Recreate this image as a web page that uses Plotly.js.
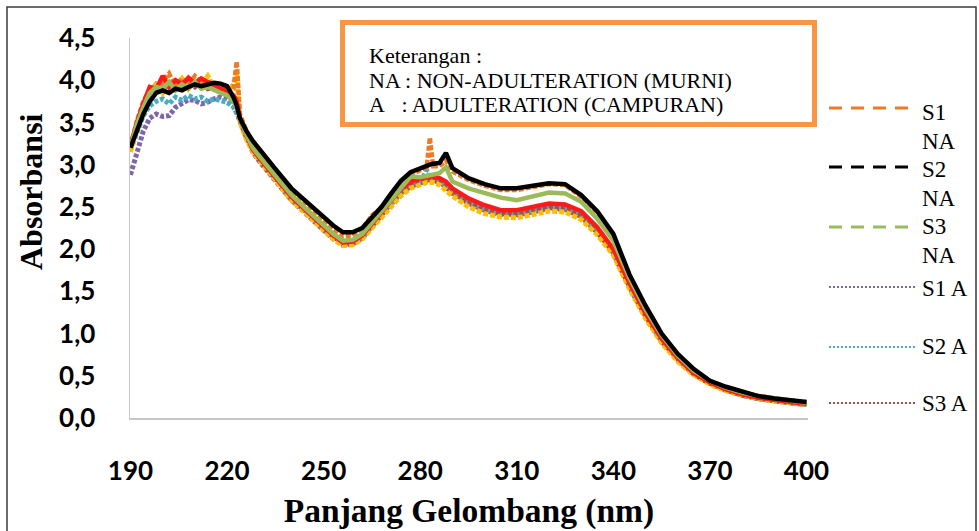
<!DOCTYPE html>
<html><head><meta charset="utf-8">
<script src="https://cdn.plot.ly/plotly-3.0.1.min.js"></script>
<style>html,body{margin:0;padding:0;background:#fff}#chart{width:979px;height:531px}</style>
</head><body><div id="chart"></div><script>
// ---------------- data ----------------
const wavelength = [190,192,194,196,198,200,202,204,206,208,210,212,214,216,218,220,
  222,223,224,226,228,230,235,240,245,250,253,256,259,262,265,268,
  271,274,277,280,282,283,284,286,288,290,295,300,305,310,315,320,
  325,330,335,340,345,350,355,360,365,370,375,380,385,390,395,400];

const seriesNames = ["S1 NA","S2 NA","S3 NA","S1 A","S2 A","S3 A"];
const legendLabelLines = ["S1","NA","S2","NA","S3","NA","S1 A","S2 A","S3 A"];

const s1NA = [3.22,3.52,3.75,3.90,3.85,3.98,4.08,3.92,
 4.02,3.95,4.05,3.97,4.00,3.93,3.92,3.88,
 3.90,4.22,3.60,3.40,3.25,3.15,2.92,2.68,
 2.50,2.33,2.23,2.15,2.16,2.24,2.40,2.48,
 2.62,2.78,2.88,2.93,2.97,3.32,2.98,2.98,
 3.05,2.92,2.82,2.75,2.70,2.70,2.74,2.77,
 2.76,2.62,2.43,2.15,1.68,1.31,0.99,0.75,
 0.57,0.44,0.36,0.30,0.26,0.23,0.21,0.19];
const s2NA = [3.20,3.40,3.60,3.75,3.85,3.88,3.85,3.90,
 3.88,3.92,3.95,3.93,3.95,3.97,3.96,3.93,
 3.80,3.70,3.55,3.40,3.28,3.18,2.95,2.72,
 2.55,2.38,2.28,2.20,2.20,2.25,2.38,2.50,
 2.66,2.81,2.91,2.96,2.99,3.00,3.01,3.02,
 3.14,2.96,2.84,2.77,2.72,2.72,2.75,2.78,
 2.77,2.64,2.45,2.18,1.70,1.33,1.00,0.76,
 0.58,0.44,0.37,0.31,0.26,0.23,0.21,0.19];
const s3NA = [3.20,3.48,3.68,3.85,3.92,3.90,3.98,3.88,
 3.95,3.90,3.98,3.90,3.92,3.88,3.85,3.82,
 3.75,3.68,3.55,3.36,3.20,3.10,2.87,2.64,
 2.46,2.28,2.18,2.10,2.11,2.18,2.32,2.45,
 2.60,2.74,2.86,2.85,2.87,2.88,2.88,2.90,
 2.97,2.80,2.72,2.66,2.61,2.58,2.62,2.67,
 2.66,2.56,2.36,2.10,1.66,1.29,0.98,0.74,
 0.56,0.44,0.36,0.30,0.26,0.23,0.20,0.18];
const s1A = [2.88,3.15,3.40,3.55,3.60,3.57,3.58,3.68,
 3.72,3.77,3.76,3.72,3.74,3.78,3.80,3.78,
 3.70,3.62,3.52,3.32,3.15,3.04,2.80,2.58,
 2.40,2.22,2.12,2.05,2.06,2.13,2.26,2.40,
 2.55,2.66,2.74,2.79,2.81,2.81,2.81,2.79,
 2.74,2.66,2.54,2.46,2.41,2.40,2.44,2.48,
 2.47,2.38,2.20,1.95,1.55,1.20,0.91,0.69,
 0.52,0.41,0.33,0.27,0.23,0.20,0.18,0.16];
const s2A = [3.18,3.40,3.58,3.70,3.75,3.78,3.72,3.80,
 3.76,3.82,3.78,3.80,3.75,3.78,3.76,3.74,
 3.68,3.62,3.52,3.33,3.16,3.06,2.83,2.60,
 2.42,2.24,2.14,2.06,2.07,2.14,2.27,2.40,
 2.53,2.66,2.74,2.78,2.94,2.82,2.81,2.80,
 2.76,2.68,2.56,2.48,2.43,2.42,2.46,2.50,
 2.49,2.40,2.22,1.97,1.56,1.21,0.92,0.70,
 0.52,0.41,0.33,0.27,0.23,0.20,0.18,0.16];
const s3A = [3.22,3.48,3.72,3.85,3.95,3.90,3.95,3.98,
 3.90,3.96,3.92,3.98,3.90,3.92,3.86,3.84,
 3.78,3.70,3.54,3.34,3.17,3.06,2.84,2.61,
 2.43,2.25,2.15,2.07,2.08,2.15,2.28,2.41,
 2.55,2.68,2.76,2.80,2.82,2.82,2.82,2.80,
 2.75,2.67,2.55,2.47,2.42,2.41,2.45,2.49,
 2.48,2.39,2.21,1.96,1.56,1.21,0.92,0.70,
 0.52,0.41,0.33,0.27,0.23,0.20,0.18,0.16];
// two further series drawn in the plot but cut from the legend
const extraRed = [3.22,3.50,3.72,3.92,3.90,4.05,3.92,4.00,
 3.95,4.03,3.96,4.02,3.98,3.94,3.90,3.88,
 3.82,3.75,3.55,3.35,3.18,3.08,2.85,2.62,
 2.44,2.26,2.16,2.08,2.09,2.16,2.30,2.43,
 2.58,2.72,2.80,2.84,2.86,2.86,2.86,2.84,
 2.80,2.72,2.60,2.52,2.46,2.46,2.50,2.54,
 2.53,2.45,2.26,2.00,1.60,1.24,0.94,0.71,
 0.53,0.42,0.34,0.28,0.24,0.21,0.19,0.17];
const extraGold = [3.15,3.45,3.70,3.88,3.95,3.85,3.98,3.92,
 4.02,3.90,4.00,3.95,4.05,3.92,3.88,3.85,
 3.95,4.10,3.50,3.30,3.15,3.05,2.82,2.58,
 2.40,2.22,2.12,2.04,2.05,2.12,2.25,2.38,
 2.52,2.63,2.72,2.77,2.79,2.79,2.79,2.76,
 2.70,2.63,2.50,2.42,2.38,2.37,2.41,2.45,
 2.44,2.35,2.17,1.93,1.53,1.18,0.89,0.67,
 0.51,0.40,0.32,0.27,0.23,0.20,0.18,0.16];

const xTicks = [190,220,250,280,310,340,370,400];
const yTicks = [0,0.5,1,1.5,2,2.5,3,3.5,4,4.5];
const noteLines = ["Keterangan :", "NA : NON-ADULTERATION (MURNI)", "A\u00A0\u00A0\u00A0: ADULTERATION (CAMPURAN)"];

// ---------------- styles ----------------
const colors = {s1NA:"#EC7A26", s2NA:"#000000", s3NA:"#9BBB59", s1A:"#7E66A8", s2A:"#4BACC6", s3A:"#B04A46", red:"#FF1A1A", gold:"#FFBE00"};
const legendColors = [colors.s1NA, colors.s2NA, colors.s3NA, colors.s1A, colors.s2A, colors.s3A];
const legendDash = ["13px,9px","13px,9px","13px,9px","2px,2px","2px,2px","2px,2px"];

function tr(y, name, color, dash, width){
  return {x: wavelength, y: y, name: name, type:"scatter", mode:"lines",
          line:{color: color, width: width, dash: dash}, showlegend:false, hoverinfo:"skip"};
}
const traces = [
  tr(s1A, seriesNames[3], colors.s1A, "4px,2px", 5),
  tr(s2A, seriesNames[4], colors.s2A, "4px,2px", 5),
  tr(s3A, seriesNames[5], colors.s3A, "4px,2px", 5),
  tr(extraGold, "", colors.gold, "5px,2px", 5),
  tr(s1NA, seriesNames[0], colors.s1NA, "5px,2px", 4.5),
  tr(extraRed, "", colors.red, "solid", 4.5),
  tr(s3NA, seriesNames[2], colors.s3NA, "solid", 4.5),
  tr(s2NA, seriesNames[1], colors.s2NA, "solid", 4.5)
];

// pixel -> paper helpers (plot area: x 130..808, y 38..418)
const L=130, R=808, T=38, B=418;
const px = p => (p-L)/(R-L);
const py = p => (B-p)/(B-T);

const serif = "Liberation Serif";
const shapes = [
  {type:"rect", xref:"paper", yref:"paper", x0:px(7), x1:px(976), y0:py(540), y1:py(7),
   line:{color:"#3a3a3a", width:1.5}, fillcolor:"rgba(0,0,0,0)", layer:"below"},
  {type:"rect", xref:"paper", yref:"paper", x0:px(342.5), x1:px(814.5), y0:py(124.5), y1:py(22.5),
   line:{color:"#F79646", width:5}, fillcolor:"#FFFFFF", layer:"above"}
];
const annotations = [];
const noteY = [55.5, 80, 104.5];
noteLines.forEach((t,i)=>annotations.push({xref:"paper", yref:"paper", x:px(368), y:py(noteY[i]),
  xanchor:"left", yanchor:"middle", showarrow:false, text:t, borderpad:0,
  font:{family:serif, size:22, color:"#000"}}));

// legend drawn by hand (sample lines + label lines)
const legLineY = [108, 167, 227, 287, 347, 403];
const legLabelY = [112.5, 141, 169.5, 198, 226.5, 255, 288, 346, 403];
legendColors.forEach((c,i)=>{
  const dotted = i>=3;
  shapes.push({type:"line", xref:"paper", yref:"paper", x0:px(829), x1:px(dotted?915:910),
    y0:py(legLineY[i]), y1:py(legLineY[i]),
    line:{color:c, width: dotted?2:3, dash: legendDash[i]}});
});
legendLabelLines.forEach((t,i)=>annotations.push({xref:"paper", yref:"paper", x:px(921), y:py(legLabelY[i]),
  xanchor:"left", yanchor:"middle", align:"left", showarrow:false, text:t, borderpad:0,
  font:{family:serif, size:23, color:"#000"}}));

// y-axis title (placed off-centre like the reference)
annotations.push({xref:"paper", yref:"paper", x:px(31), y:py(192), textangle:-90,
  xanchor:"center", yanchor:"middle", showarrow:false, text:"Absorbansi",
  font:{family:serif, size:32, color:"#000", weight:"bold"}});

const layout = {
  width:979, height:531,
  margin:{l:L, r:979-R, t:T, b:531-B, pad:0},
  paper_bgcolor:"#FFFFFF", plot_bgcolor:"#FFFFFF",
  separators:", ",
  showlegend:false,
  xaxis:{range:[189.85,400.47], tickvals:xTicks, ticktext:xTicks.map(String),
    showgrid:false, zeroline:false, showline:true, linecolor:"#C6C6C6", linewidth:1.5,
    ticks:"", ticklabelstandoff:29,
    tickfont:{family:"Lato", size:26, color:"#000", weight:"bold"},
    title:{text:"Panjang Gelombang (nm)", standoff:14,
      font:{family:serif, size:33.5, color:"#000", weight:"bold"}}},
  yaxis:{range:[0,4.5], tickvals:yTicks, tickformat:".1f",
    showgrid:false, zeroline:false, showline:true, linecolor:"#C6C6C6", linewidth:1.5,
    ticks:"", ticklabelstandoff:28,
    tickfont:{family:"Lato", size:26, color:"#000", weight:"bold"}},
  shapes:shapes, annotations:annotations
};
Plotly.newPlot("chart", traces, layout, {staticPlot:true, displayModeBar:false});
</script></body></html>
